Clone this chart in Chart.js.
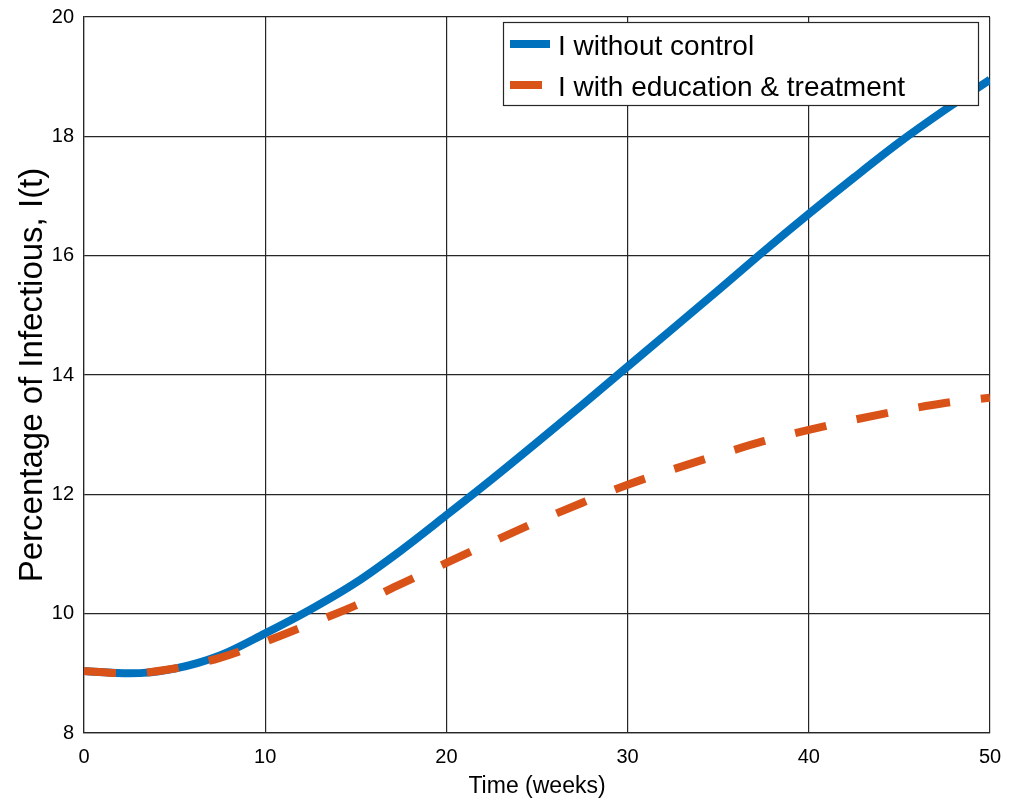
<!DOCTYPE html>
<html>
<head>
<meta charset="utf-8">
<script src="https://cdn.jsdelivr.net/npm/chart.js@4/dist/chart.umd.min.js"></script>
<style>
  html, body { margin: 0; padding: 0; background: #fff; }
  #wrap { width: 1016px; height: 803px; position: relative; }
</style>
</head>
<body>
<div id="wrap"><canvas id="c" width="1016" height="803"></canvas></div>
<script>
// Time axis (weeks)
const weeks = [0, 2.5, 5, 7.5, 10, 12.5, 15, 17.5, 20, 22.5, 25, 27.5, 30, 32.5, 35, 37.5, 40, 42.5, 45, 47.5, 50];

// Infectious percentage, no intervention
const infectedNoControl = [9.04, 9.00, 9.08, 9.30, 9.67, 10.07, 10.52, 11.06, 11.65, 12.25, 12.87, 13.50, 14.14, 14.78, 15.42, 16.07, 16.70, 17.31, 17.90, 18.44, 18.95];

// Infectious percentage, education and treatment applied
const infectedWithControl = [9.04, 9.00, 9.08, 9.26, 9.53, 9.83, 10.14, 10.50, 10.85, 11.20, 11.54, 11.86, 12.16, 12.42, 12.66, 12.89, 13.08, 13.25, 13.40, 13.53, 13.62];

const seriesLabels = ['I without control', 'I with education & treatment'];
const xTickValues = [0, 10, 20, 30, 40, 50];
const yTickValues = [8, 10, 12, 14, 16, 18, 20];

const FONT = '"Liberation Sans", Arial, Helvetica, sans-serif';
const BLUE = '#0072BD';
const ORANGE = '#D95319';
const GRID = '#262626';

const toPoints = (xs, ys) => xs.map((x, i) => ({ x, y: ys[i] }));

// Boxed legend drawn inside the top-right corner of the plot area
const insideLegend = {
  id: 'insideLegend',
  afterDatasetsDraw(chart) {
    const { ctx, chartArea } = chart;
    const boxW = 475, boxH = 83;
    const x0 = chartArea.right - 12 - boxW;
    const y0 = chartArea.top + 5;
    ctx.save();
    ctx.fillStyle = '#fff';
    ctx.fillRect(x0, y0, boxW, boxH);
    ctx.strokeStyle = GRID;
    ctx.lineWidth = 1.2;
    ctx.strokeRect(x0 + 0.5, y0 + 0.5, boxW, boxH);
    const rows = [y0 + 22, y0 + 63];
    chart.data.datasets.forEach((ds, i) => {
      const y = rows[i];
      ctx.strokeStyle = ds.borderColor;
      ctx.lineWidth = 8;
      ctx.lineCap = 'butt';
      ctx.beginPath();
      ctx.moveTo(x0 + 7, y);
      ctx.lineTo(x0 + (ds.borderDash ? 39 : 47), y);
      ctx.stroke();
      ctx.fillStyle = '#000';
      ctx.font = '28px ' + FONT;
      ctx.textBaseline = 'middle';
      ctx.textAlign = 'left';
      ctx.fillText(ds.label, x0 + 55, y + 3);
    });
    ctx.restore();
  }
};

new Chart(document.getElementById('c'), {
  type: 'line',
  data: {
    datasets: [
      {
        label: seriesLabels[0],
        data: toPoints(weeks, infectedNoControl),
        borderColor: BLUE,
        borderWidth: 8,
        pointRadius: 0,
        cubicInterpolationMode: 'monotone',
        fill: false,
        order: 1
      },
      {
        label: seriesLabels[1],
        data: toPoints(weeks, infectedWithControl),
        borderColor: ORANGE,
        borderWidth: 8,
        borderDash: [32, 31],
        borderCapStyle: 'butt',
        pointRadius: 0,
        cubicInterpolationMode: 'monotone',
        fill: false,
        order: 0
      }
    ]
  },
  options: {
    responsive: false,
    animation: false,
    layout: { padding: { top: 17, right: 26, left: 0, bottom: 0 } },
    plugins: {
      legend: { display: false },
      tooltip: { enabled: false }
    },
    scales: {
      x: {
        type: 'linear',
        min: 0, max: 50,
        afterBuildTicks(scale) { scale.ticks = xTickValues.map(v => ({ value: v })); },
        afterFit(scale) { scale.height = 70; },
        grid: { color: GRID, lineWidth: 1.2, drawTicks: false },
        border: { color: GRID, width: 1.2 },
        ticks: { color: '#000', padding: 12, font: { family: FONT, size: 20 }, maxRotation: 0 },
        title: {
          display: true,
          text: 'Time (weeks)',
          color: '#000',
          font: { family: FONT, size: 23 },
          padding: { top: 0, bottom: 3 }
        }
      },
      y: {
        type: 'linear',
        min: 8, max: 20,
        afterBuildTicks(scale) { scale.ticks = yTickValues.map(v => ({ value: v })); },
        afterFit(scale) {
          scale.width = 84;
          scale.paddingTop = 0;
          scale.paddingBottom = 0;
        },
        grid: { color: GRID, lineWidth: 1.2, drawTicks: false },
        border: { color: GRID, width: 1.2 },
        ticks: { color: '#000', padding: 10, font: { family: FONT, size: 20 } },
        title: {
          display: true,
          text: 'Percentage of Infectious, I(t)',
          color: '#000',
          font: { family: FONT, size: 33 },
          padding: { top: 13, bottom: 0 }
        }
      }
    }
  },
  plugins: [insideLegend]
});
</script>
</body>
</html>
